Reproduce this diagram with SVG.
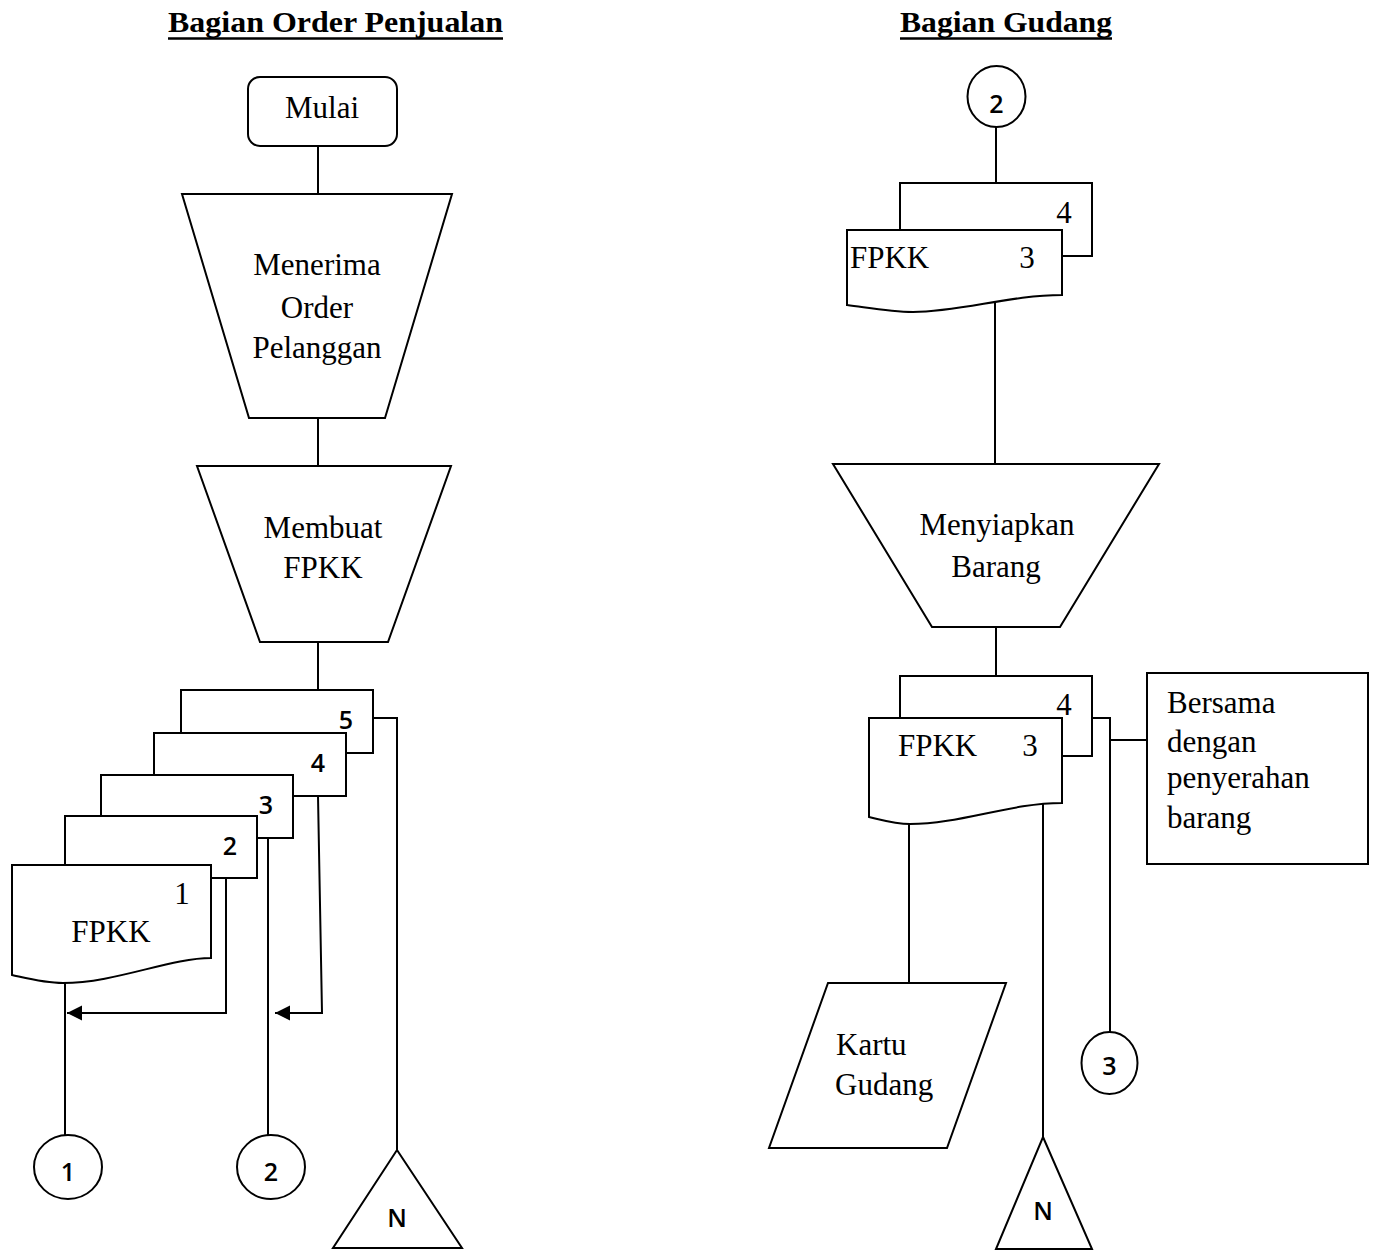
<svg xmlns="http://www.w3.org/2000/svg" width="1379" height="1251" viewBox="0 0 1379 1251">
  <style>
    .shape { fill: #fff; stroke: #000; stroke-width: 2; }
    .wire { fill: none; stroke: #000; stroke-width: 2; }
    .txt { font-family: "Liberation Serif", "Times New Roman", serif; font-size: 31px; fill: #000; }
    .num { font-family: "Open Sans", "Noto Sans", sans-serif; font-size: 25px; font-weight: 600; fill: #000; }
    .head { font-family: "Liberation Serif", "Times New Roman", serif; font-size: 30px; font-weight: bold; fill: #000; }
  </style>
  <defs>
    <marker id="arrow" markerUnits="userSpaceOnUse" markerWidth="16" markerHeight="16" viewBox="0 0 16 16" refX="15" refY="8" orient="auto">
      <path d="M0,0.5 L15,8 L0,15.5 Z" fill="#000"/>
    </marker>
  </defs>
  <rect width="1379" height="1251" fill="#fff"/>

  <!-- lane headings -->
  <g id="heading-order">
    <text class="head" x="168" y="32" textLength="335" lengthAdjust="spacingAndGlyphs">Bagian Order Penjualan</text>
    <line x1="168" y1="38.5" x2="503" y2="38.5" stroke="#000" stroke-width="2.5"/>
  </g>
  <g id="heading-gudang">
    <text class="head" x="900" y="32" textLength="212" lengthAdjust="spacingAndGlyphs">Bagian Gudang</text>
    <line x1="900" y1="38.5" x2="1112" y2="38.5" stroke="#000" stroke-width="2.5"/>
  </g>

  <!-- connectors -->
  <g id="connectors">
    <path class="wire" d="M318,146 V194"/>
    <path class="wire" d="M318,418 V466"/>
    <path class="wire" d="M318,642 V690"/>
    <path class="wire" d="M373,718 H397 V1150"/>
    <path class="wire" d="M318,796 L322,1013 H275" marker-end="url(#arrow)"/>
    <path class="wire" d="M268,838 V1135"/>
    <path class="wire" d="M226,878 V1013 H67" marker-end="url(#arrow)"/>
    <path class="wire" d="M65,983 V1135"/>
    <path class="wire" d="M996,127 V183"/>
    <path class="wire" d="M995,301 V464"/>
    <path class="wire" d="M996,627 V676"/>
    <path class="wire" d="M1092,718 H1110 V1032"/>
    <path class="wire" d="M1110,740 H1147"/>
    <path class="wire" d="M1043,801 V1137"/>
    <path class="wire" d="M909,824 V983"/>
  </g>

  <!-- Bagian Order Penjualan -->
  <g id="mulai">
    <rect class="shape" x="248" y="77" width="149" height="69" rx="12"/>
    <text class="txt" x="322" y="118" text-anchor="middle">Mulai</text>
  </g>
  <g id="menerima-order">
    <polygon class="shape" points="182,194 452,194 385,418 249,418"/>
    <text class="txt" x="317" y="275" text-anchor="middle">Menerima</text>
    <text class="txt" x="317" y="318" text-anchor="middle">Order</text>
    <text class="txt" x="317" y="358" text-anchor="middle">Pelanggan</text>
  </g>
  <g id="membuat-fpkk">
    <polygon class="shape" points="197,466 451,466 388,642 260,642"/>
    <text class="txt" x="323" y="538" text-anchor="middle">Membuat</text>
    <text class="txt" x="323" y="578" text-anchor="middle">FPKK</text>
  </g>
  <g id="fpkk-copies">
    <rect class="shape" x="181" y="690" width="192" height="63"/>
    <text class="num" x="346" y="729" text-anchor="middle">5</text>
    <rect class="shape" x="154" y="733" width="192" height="63"/>
    <text class="num" x="318" y="772" text-anchor="middle">4</text>
    <rect class="shape" x="101" y="775" width="192" height="63"/>
    <text class="num" x="266" y="814" text-anchor="middle">3</text>
    <rect class="shape" x="65" y="816" width="192" height="62"/>
    <text class="num" x="230" y="855" text-anchor="middle">2</text>
    <path class="shape" d="M12,865 H211 V958 C170,958 115,983 63,983 C45,983 30,979 12,975 Z"/>
    <text class="txt" x="182" y="904" text-anchor="middle">1</text>
    <text class="txt" x="111" y="942" text-anchor="middle">FPKK</text>
  </g>
  <g id="connector-1">
    <ellipse class="shape" cx="68" cy="1167" rx="34" ry="32"/>
    <text class="num" x="68" y="1181" text-anchor="middle">1</text>
  </g>
  <g id="connector-2">
    <ellipse class="shape" cx="271" cy="1167" rx="34" ry="32"/>
    <text class="num" x="271" y="1181" text-anchor="middle">2</text>
  </g>
  <g id="arsip-n-1">
    <polygon class="shape" points="397,1150 462,1248 333,1248"/>
    <text class="num" x="397" y="1227" text-anchor="middle">N</text>
  </g>

  <!-- Bagian Gudang -->
  <g id="connector-2-in">
    <ellipse class="shape" cx="996.5" cy="96.5" rx="29" ry="30.5"/>
    <text class="num" x="996.5" y="113" text-anchor="middle">2</text>
  </g>
  <g id="fpkk-in">
    <rect class="shape" x="900" y="183" width="192" height="73"/>
    <text class="txt" x="1064" y="223" text-anchor="middle">4</text>
    <path class="shape" d="M847,230 H1062 V295 C1010,295 960,312 913,312 C890,312 870,308 847,305 Z"/>
    <text class="txt" x="850" y="268">FPKK</text>
    <text class="txt" x="1027" y="268" text-anchor="middle">3</text>
  </g>
  <g id="menyiapkan-barang">
    <polygon class="shape" points="833,464 1159,464 1060,627 932,627"/>
    <text class="txt" x="997" y="535" text-anchor="middle">Menyiapkan</text>
    <text class="txt" x="996" y="577" text-anchor="middle">Barang</text>
  </g>
  <g id="fpkk-out">
    <rect class="shape" x="900" y="676" width="192" height="80"/>
    <text class="txt" x="1064" y="715" text-anchor="middle">4</text>
    <path class="shape" d="M869,718 H1062 V803 C1010,803 960,824 910,824 C895,824 882,820 869,817 Z"/>
    <text class="txt" x="898" y="756">FPKK</text>
    <text class="txt" x="1030" y="756" text-anchor="middle">3</text>
  </g>
  <g id="catatan">
    <rect class="shape" x="1147" y="673" width="221" height="191"/>
    <text class="txt" x="1167" y="713">Bersama</text>
    <text class="txt" x="1167" y="752">dengan</text>
    <text class="txt" x="1167" y="788">penyerahan</text>
    <text class="txt" x="1167" y="828">barang</text>
  </g>
  <g id="kartu-gudang">
    <polygon class="shape" points="828,983 1006,983 947,1148 769,1148"/>
    <text class="txt" x="836" y="1055">Kartu</text>
    <text class="txt" x="835" y="1095">Gudang</text>
  </g>
  <g id="connector-3">
    <ellipse class="shape" cx="1109.5" cy="1063" rx="28" ry="31"/>
    <text class="num" x="1109.5" y="1075" text-anchor="middle">3</text>
  </g>
  <g id="arsip-n-2">
    <polygon class="shape" points="1043,1137 1092,1249 996,1249"/>
    <text class="num" x="1043" y="1220" text-anchor="middle">N</text>
  </g>
</svg>
